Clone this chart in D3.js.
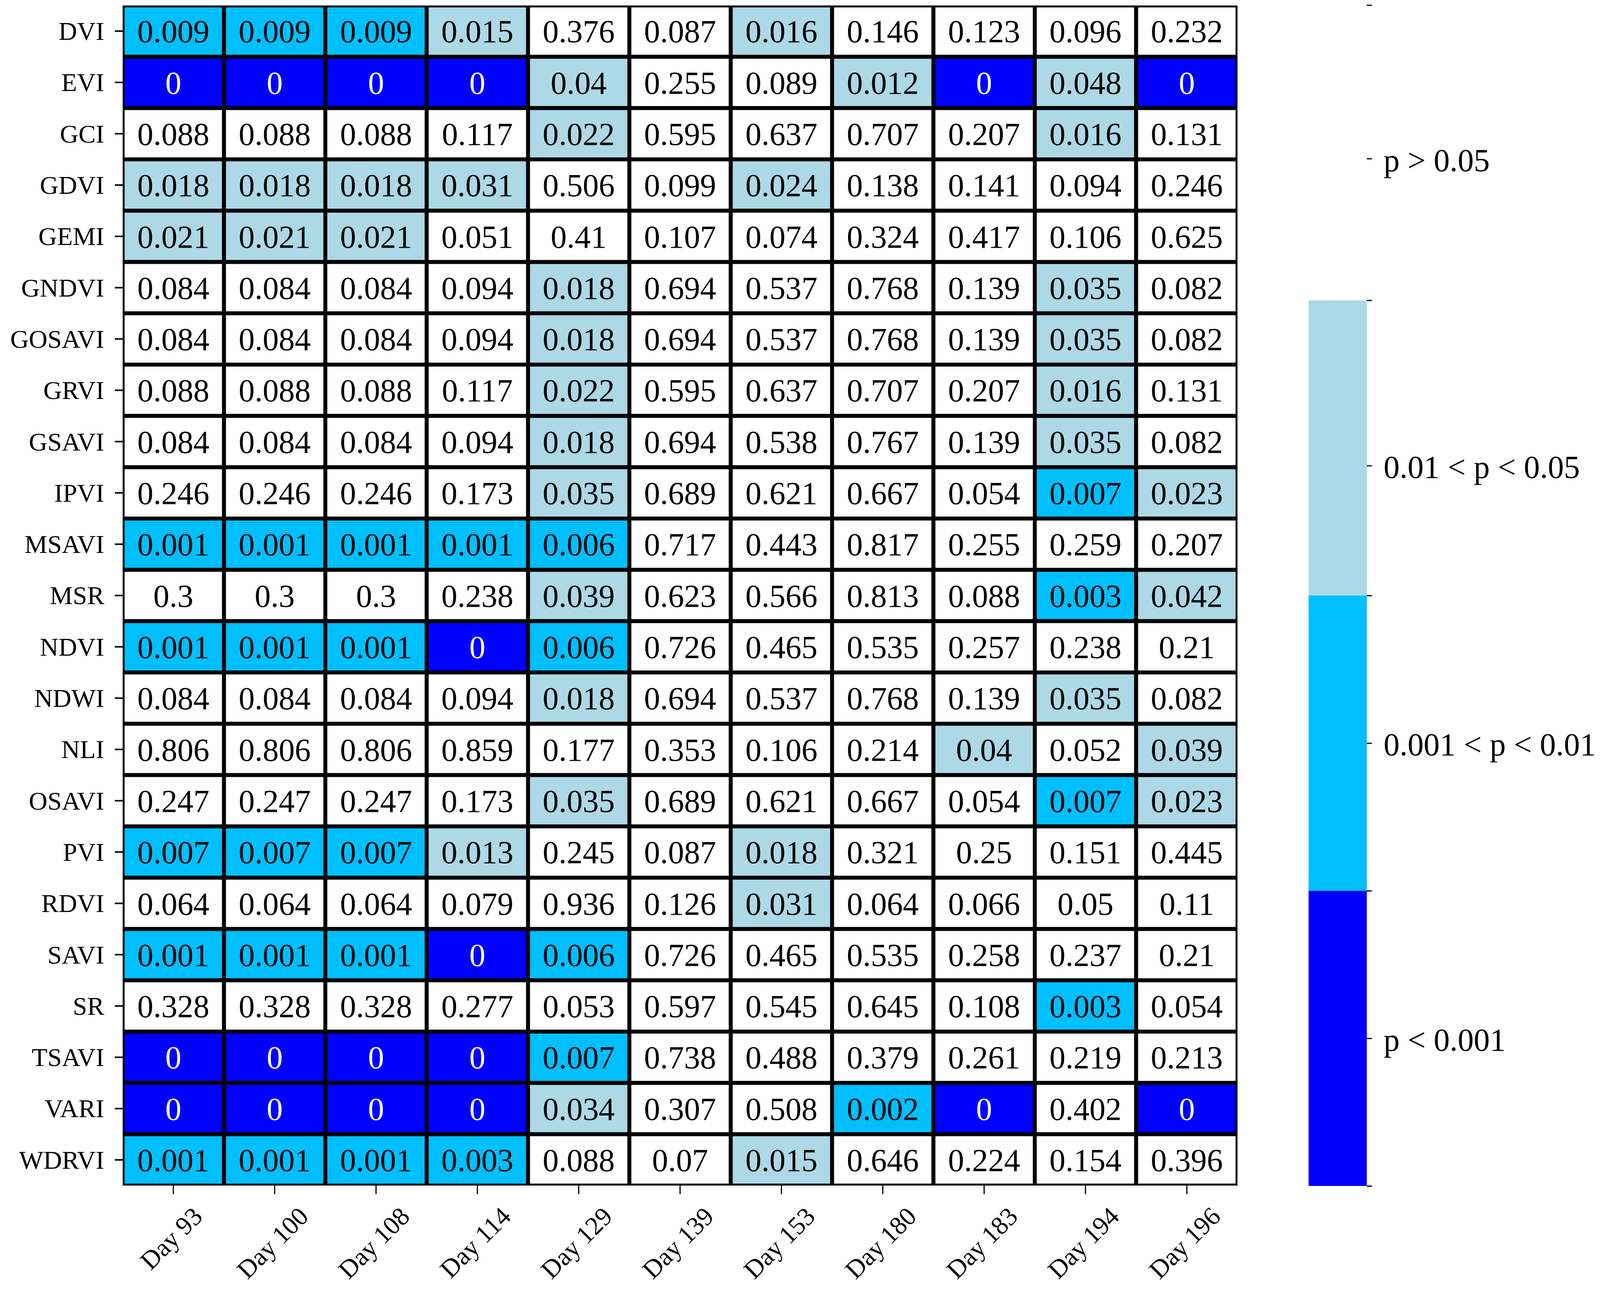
<!DOCTYPE html>
<html>
<head>
<meta charset="utf-8">
<script src="https://cdn.jsdelivr.net/npm/d3@7"></script>
<style>
  html, body { margin: 0; padding: 0; background: #fff; }
  text { font-family: "Liberation Serif", "Times New Roman", serif; fill: #000; }
</style>
</head>
<body>
<svg id="chart" width="4109" height="3309"></svg>
<script>
var days = ["Day 93", "Day 100", "Day 108", "Day 114", "Day 129", "Day 139",
  "Day 153", "Day 180", "Day 183", "Day 194", "Day 196"];

var indices = ["DVI", "EVI", "GCI", "GDVI", "GEMI", "GNDVI", "GOSAVI", "GRVI",
  "GSAVI", "IPVI", "MSAVI", "MSR", "NDVI", "NDWI", "NLI", "OSAVI", "PVI",
  "RDVI", "SAVI", "SR", "TSAVI", "VARI", "WDRVI"];

// p-values, one row per index, one column per day
var pValues = [
  [0.009, 0.009, 0.009, 0.015, 0.376, 0.087, 0.016, 0.146, 0.123, 0.096, 0.232],
  [0, 0, 0, 0, 0.04, 0.255, 0.089, 0.012, 0, 0.048, 0],
  [0.088, 0.088, 0.088, 0.117, 0.022, 0.595, 0.637, 0.707, 0.207, 0.016, 0.131],
  [0.018, 0.018, 0.018, 0.031, 0.506, 0.099, 0.024, 0.138, 0.141, 0.094, 0.246],
  [0.021, 0.021, 0.021, 0.051, 0.41, 0.107, 0.074, 0.324, 0.417, 0.106, 0.625],
  [0.084, 0.084, 0.084, 0.094, 0.018, 0.694, 0.537, 0.768, 0.139, 0.035, 0.082],
  [0.084, 0.084, 0.084, 0.094, 0.018, 0.694, 0.537, 0.768, 0.139, 0.035, 0.082],
  [0.088, 0.088, 0.088, 0.117, 0.022, 0.595, 0.637, 0.707, 0.207, 0.016, 0.131],
  [0.084, 0.084, 0.084, 0.094, 0.018, 0.694, 0.538, 0.767, 0.139, 0.035, 0.082],
  [0.246, 0.246, 0.246, 0.173, 0.035, 0.689, 0.621, 0.667, 0.054, 0.007, 0.023],
  [0.001, 0.001, 0.001, 0.001, 0.006, 0.717, 0.443, 0.817, 0.255, 0.259, 0.207],
  [0.3, 0.3, 0.3, 0.238, 0.039, 0.623, 0.566, 0.813, 0.088, 0.003, 0.042],
  [0.001, 0.001, 0.001, 0, 0.006, 0.726, 0.465, 0.535, 0.257, 0.238, 0.21],
  [0.084, 0.084, 0.084, 0.094, 0.018, 0.694, 0.537, 0.768, 0.139, 0.035, 0.082],
  [0.806, 0.806, 0.806, 0.859, 0.177, 0.353, 0.106, 0.214, 0.04, 0.052, 0.039],
  [0.247, 0.247, 0.247, 0.173, 0.035, 0.689, 0.621, 0.667, 0.054, 0.007, 0.023],
  [0.007, 0.007, 0.007, 0.013, 0.245, 0.087, 0.018, 0.321, 0.25, 0.151, 0.445],
  [0.064, 0.064, 0.064, 0.079, 0.936, 0.126, 0.031, 0.064, 0.066, 0.05, 0.11],
  [0.001, 0.001, 0.001, 0, 0.006, 0.726, 0.465, 0.535, 0.258, 0.237, 0.21],
  [0.328, 0.328, 0.328, 0.277, 0.053, 0.597, 0.545, 0.645, 0.108, 0.003, 0.054],
  [0, 0, 0, 0, 0.007, 0.738, 0.488, 0.379, 0.261, 0.219, 0.213],
  [0, 0, 0, 0, 0.034, 0.307, 0.508, 0.002, 0, 0.402, 0],
  [0.001, 0.001, 0.001, 0.003, 0.088, 0.07, 0.015, 0.646, 0.224, 0.154, 0.396]
];

// significance classes, bottom to top of the colour bar
var thresholds = [0.001, 0.01, 0.05];
var classColors = ["#0000ff", "#00bfff", "#add8e6", "#ffffff"];
var classLabels = ["p < 0.001", "0.001 < p < 0.01", "0.01 < p < 0.05", "p > 0.05"];
var classTickPos = [0.5, 1.5, 2.44, 3.48];

var svg = d3.select("#chart");

// note: "top" is a read-only window global, so use prefixed names
var mapLeft = 314, mapRight = 3168, mapTop = 14, mapBottom = 3034;

var x = d3.scaleBand().domain(days).range([mapLeft, mapRight]);
var y = d3.scaleBand().domain(indices).range([mapTop, mapBottom]);
var pClass = d3.scaleThreshold().domain(thresholds).range([0, 1, 2, 3]);

var cells = [];
pValues.forEach(function (row, i) {
  row.forEach(function (v, j) {
    cells.push({ index: indices[i], day: days[j], p: v });
  });
});

// outer cell edges are clipped to the map, like the original
svg.append("defs")
  .append("clipPath")
  .attr("id", "map-clip")
  .append("rect")
  .attr("x", mapLeft)
  .attr("y", mapTop)
  .attr("width", mapRight - mapLeft)
  .attr("height", mapBottom - mapTop);

var cellG = svg.append("g")
  .attr("class", "cells")
  .attr("clip-path", "url(#map-clip)");

cellG.selectAll("rect")
  .data(cells)
  .enter()
  .append("rect")
  .attr("x", function (d) { return x(d.day); })
  .attr("y", function (d) { return y(d.index); })
  .attr("width", x.bandwidth())
  .attr("height", y.bandwidth())
  .attr("fill", function (d) { return classColors[pClass(d.p)]; })
  .attr("stroke", "#000")
  .attr("stroke-width", 10);

cellG.selectAll("text")
  .data(cells)
  .enter()
  .append("text")
  .attr("x", function (d) { return x(d.day) + x.bandwidth() / 2; })
  .attr("y", function (d) { return y(d.index) + y.bandwidth() / 2; })
  .attr("dy", "0.35em")
  .attr("text-anchor", "middle")
  .style("font-size", "82px")
  .style("fill", function (d) { return pClass(d.p) === 0 ? "#fff" : "#000"; })
  .text(function (d) { return String(d.p); });

// y axis
var yAxis = svg.append("g")
  .attr("transform", "translate(" + mapLeft + ",0)")
  .call(d3.axisLeft(y).tickSize(20).tickPadding(27));
yAxis.select(".domain").remove();
yAxis.selectAll(".tick line").attr("stroke-width", 4);
yAxis.selectAll(".tick text")
  .attr("dy", "0.34em")
  .style("font-size", "66px")
  .style("font-family", "'Liberation Serif', serif");

// x axis
var xAxis = svg.append("g")
  .attr("transform", "translate(0," + mapBottom + ")")
  .call(d3.axisBottom(x).tickSize(22));
xAxis.select(".domain").remove();
xAxis.selectAll(".tick line").attr("stroke-width", 3);
xAxis.selectAll(".tick text")
  .style("font-size", "66px")
  .style("font-family", "'Liberation Serif', serif")
  .attr("text-anchor", "middle")
  .attr("y", 0)
  .attr("dy", "0.22em")
  .attr("transform", function () {
    var w = this.getComputedTextLength();
    var h = 0.88 * 66;
    var cy = 52 + (w + h) / (2 * Math.SQRT2);
    return "translate(0," + cy + ") rotate(-45)";
  });

// colour bar
var cbLeft = 3350, cbWidth = 149;
var cb = d3.scaleLinear().domain([0, 4]).range([3035, 13]);

svg.append("g")
  .selectAll("rect")
  .data(classColors)
  .enter()
  .append("rect")
  .attr("x", cbLeft)
  .attr("y", function (d, i) { return cb(i + 1); })
  .attr("width", cbWidth)
  .attr("height", function (d, i) { return cb(i) - cb(i + 1); })
  .attr("fill", function (d) { return d; });

var cbEdges = svg.append("g")
  .attr("transform", "translate(" + (cbLeft + cbWidth) + ",0)")
  .call(d3.axisRight(cb).tickValues([0, 1, 2, 3, 4]).tickSize(13).tickFormat(""));
cbEdges.select(".domain").remove();
cbEdges.selectAll(".tick line").attr("stroke-width", 3);

var cbAxis = svg.append("g")
  .attr("transform", "translate(" + (cbLeft + cbWidth) + ",0)")
  .call(d3.axisRight(cb)
    .tickValues(classTickPos)
    .tickSize(13)
    .tickPadding(30)
    .tickFormat(function (d, i) { return classLabels[i]; }));
cbAxis.select(".domain").remove();
cbAxis.selectAll(".tick line").attr("stroke-width", 3);
cbAxis.selectAll(".tick text")
  .attr("dy", "0.38em")
  .style("font-size", "82px")
  .style("font-family", "'Liberation Serif', serif");
</script>
</body>
</html>
